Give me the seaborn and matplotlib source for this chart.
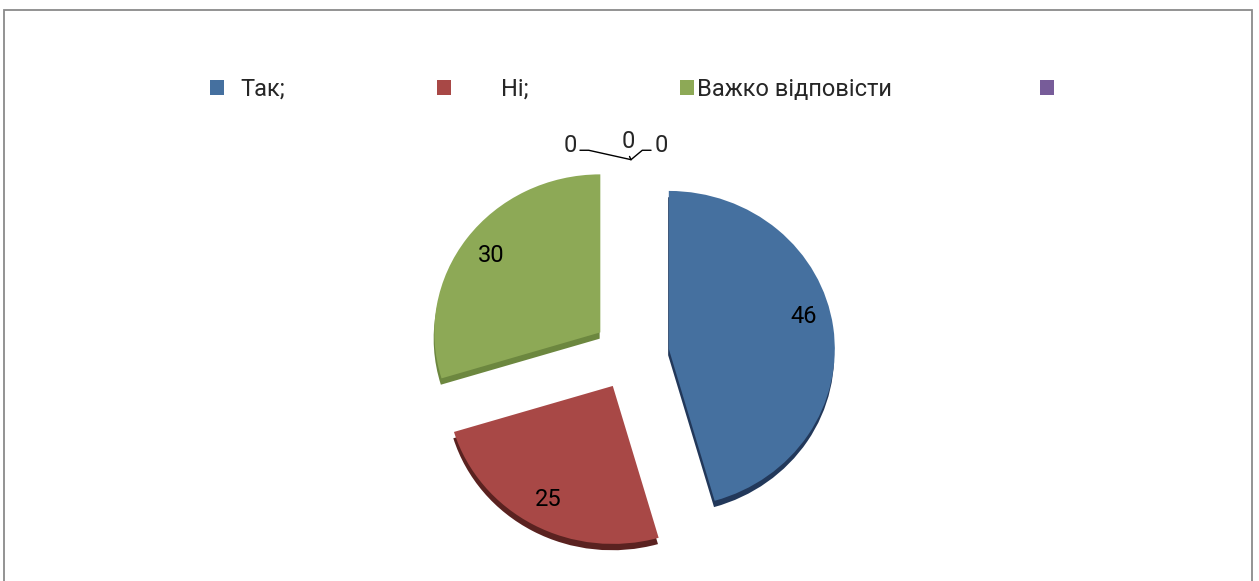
import numpy as np
import matplotlib
matplotlib.use("Agg")
import matplotlib.pyplot as plt
from matplotlib.patches import Patch, Rectangle
import seaborn as sns

# data
categories = ["Так;", "Ні;", "Важко відповісти", "", "", ""]
values = [46, 25, 30, 0, 0, 0]
legend_labels = ["Так;", "Ні;", "Важко відповісти", ""]
colors = ["#45709F", "#A84846", "#8DA956", "#775C99", "#4BACC6", "#F79646"]
shadow_colors = ["#22385A", "#5A2220", "#6C873F", "#4A3866", "#2E7D91", "#A85F20"]

sns.set_theme(style="white")
plt.rcParams["font.family"] = ["Roboto", "DejaVu Sans"]

W, H = 1259, 581
fig = plt.figure(figsize=(W / 100, H / 100), dpi=100)
ax = fig.add_axes([0, 0, 1, 1])

# pie centre / radii in pixels
cx_px, cy_px = 631, 354
rx_px, ry_px = 166, 158
explode = [0.23] * len(values)
total = sum(values)


def fmt(p):
    v = int(round(p * total / 100))
    return "" if v == 0 else str(v)


# "3d" thickness: darker copy shifted down
ax.pie(values, explode=explode, startangle=90, counterclock=False,
       colors=shadow_colors, center=(-0.004, -0.04),
       wedgeprops=dict(linewidth=0))
wedges, texts, autotexts = ax.pie(values, explode=explode, startangle=90,
                                  counterclock=False, colors=colors,
                                  autopct=fmt, pctdistance=0.82,
                                  wedgeprops=dict(linewidth=0),
                                  textprops=dict(fontsize=17, color="black"))
# excel nudges the big label a little upward
x0, y0 = autotexts[0].get_position()
autotexts[0].set_position((x0, y0 + 0.09))

ax.set_aspect("auto")
ax.set_xlim(-cx_px / rx_px, (W - cx_px) / rx_px)
ax.set_ylim(-(H - cy_px) / ry_px, cy_px / ry_px)
ax.axis("off")

# zero-value labels with leader lines
zero_idx = [i for i, v in enumerate(values) if v == 0]
offsets = [(-61, 14), (-3, 18), (30, 14)]
styles = [
    dict(relpos=(1, 0.3), connectionstyle="arc,angleA=0,angleB=0,armA=12,armB=0,rad=0"),
    dict(relpos=(0.5, 0), connectionstyle="arc3"),
    dict(relpos=(0, 0.3), connectionstyle="arc,angleA=180,angleB=0,armA=12,armB=0,rad=0"),
]
for k, i in enumerate(zero_idx):
    w = wedges[i]
    th = np.deg2rad(w.theta1)
    xy = (w.center[0] + w.r * np.cos(th), w.center[1] + w.r * np.sin(th))
    ax.annotate(str(values[i]), xy=xy, xytext=offsets[k], textcoords="offset pixels",
                ha="center", va="center", fontsize=17,
                arrowprops=dict(arrowstyle="-", color="black", lw=1,
                                shrinkA=0, shrinkB=0, **styles[k]))

# legend, one entry per slot like the original
leg_x = [210, 437, 680, 1040]
leg_pad = [0.7, 2.1, 0.12, 0.3]
for lab, col, x, pad in zip(legend_labels, colors, leg_x, leg_pad):
    fig.legend(handles=[Patch(facecolor=col, edgecolor="none")], labels=[lab],
               loc="center left", bbox_to_anchor=(x / W, 1 - 89 / H),
               frameon=False, fontsize=17, borderpad=0, borderaxespad=0,
               handlelength=0.6, handleheight=0.6, handletextpad=pad)

# outer chart border
fig.add_artist(Rectangle((4 / W, -0.05), (1252 - 4) / W, (H - 10) / H + 0.05,
                         transform=fig.transFigure, fill=False,
                         edgecolor="#8a8a8a", lw=1.3))

plt.savefig("out.png", dpi=100)
